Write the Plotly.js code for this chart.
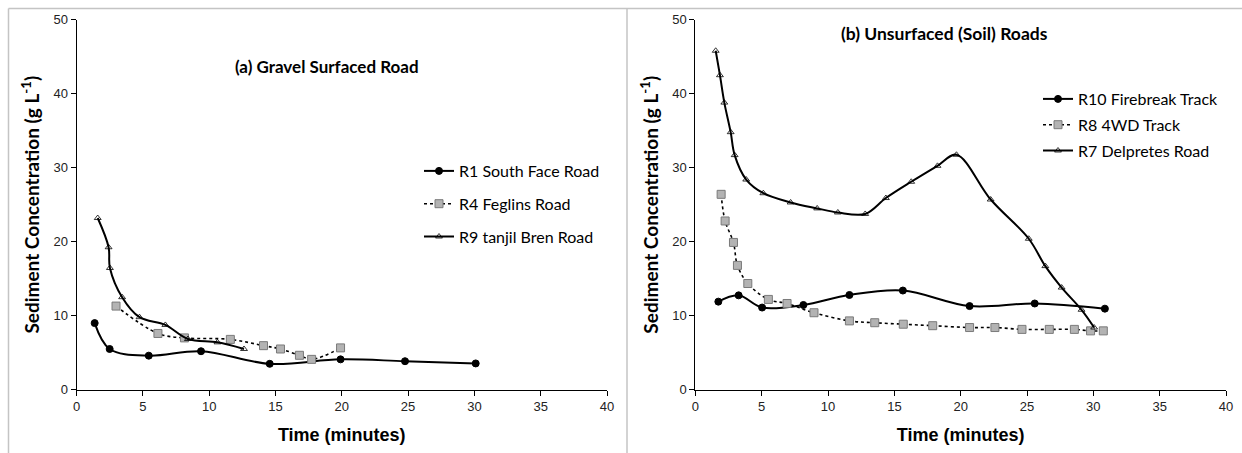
<!DOCTYPE html>
<html>
<head>
<meta charset="utf-8">
<script src="https://cdn.plot.ly/plotly-3.0.1.min.js"></script>
<style>html,body{margin:0;padding:0;background:#fff;}#chart{width:1242px;height:453px;}</style>
</head>
<body>
<div id="chart"></div>
<script>
// ---- Panel (a) Gravel Surfaced Road ----
const r1Time = [1.37, 2.50, 5.45, 9.39, 14.57, 19.91, 24.77, 30.1];
const r1Conc = [9.0, 5.5, 4.6, 5.2, 3.5, 4.1, 3.85, 3.55];
const r4Time = [2.98, 6.14, 8.14, 11.6, 14.1, 15.38, 16.81, 17.73, 19.91];
const r4Conc = [11.3, 7.6, 7.0, 6.8, 5.95, 5.5, 4.65, 4.1, 5.65];
const r9Time = [1.6, 2.42, 2.52, 3.44, 4.75, 6.7, 8.4, 10.63, 12.63];
const r9Conc = [23.2, 19.25, 16.45, 12.5, 9.8, 8.75, 6.85, 6.4, 5.5];

// ---- Panel (b) Unsurfaced (Soil) Roads ----
const r10Time = [1.73, 3.26, 5.03, 8.14, 11.61, 15.64, 20.67, 25.58, 30.87];
const r10Conc = [11.9, 12.75, 11.1, 11.45, 12.8, 13.4, 11.3, 11.65, 10.95];
const r8Time = [1.94, 2.24, 2.87, 3.17, 3.95, 5.50, 6.91, 8.94, 11.61, 13.52, 15.67, 17.89, 20.67, 22.58, 24.62, 26.68, 28.57, 29.79, 30.75];
const r8Conc = [26.4, 22.8, 19.9, 16.8, 14.35, 12.2, 11.65, 10.4, 9.3, 9.05, 8.85, 8.65, 8.4, 8.4, 8.15, 8.15, 8.15, 7.95, 7.95];
const r7Time = [1.53, 1.85, 2.18, 2.66, 2.96, 3.83, 5.12, 7.18, 9.18, 10.74, 12.8, 14.36, 16.27, 18.25, 19.68, 22.26, 25.13, 26.38, 27.61, 29.11, 30.06];
const r7Conc = [45.8, 42.5, 38.8, 34.8, 31.7, 28.4, 26.55, 25.3, 24.5, 23.95, 23.75, 25.9, 28.1, 30.25, 31.75, 25.7, 20.4, 16.7, 13.8, 10.8, 8.4];

const names = {
  r1: 'R1 South Face Road', r4: 'R4 Feglins Road', r9: 'R9 tanjil Bren Road',
  r10: 'R10 Firebreak Track', r8: 'R8 4WD Track', r7: 'R7 Delpretes Road'
};
const xTicks = [0, 5, 10, 15, 20, 25, 30, 35, 40];
const yTicks = [0, 10, 20, 30, 40, 50];
const panelTitles = ['(a) Gravel Surfaced Road', '(b) Unsurfaced (Soil) Roads'];
const xTitle = 'Time (minutes)';
const yTitle = 'Sediment Concentration (g L<sup>-1</sup>)';

const W = 1242, H = 453;
const px = v => v / W, py = v => 1 - v / H;
const calib = 'Lato, "Noto Sans", sans-serif';
const arial = '"Liberation Sans", Arial, sans-serif';

const circleStyle = {line: {color: '#000', width: 2, shape: 'spline', smoothing: 1},
  marker: {symbol: 'circle', size: 7, color: '#000', line: {color: '#000', width: 1}}};
const squareStyle = {line: {color: '#000', width: 1.6, dash: 'dot', shape: 'spline', smoothing: 1},
  marker: {symbol: 'square', size: 8, color: '#b3b3b3', line: {color: '#7a7a7a', width: 1}}};
const triStyle = {line: {color: '#000', width: 2, shape: 'spline', smoothing: 1},
  marker: {symbol: 'triangle-up-open', size: 6, color: '#000', line: {color: '#000', width: 0.8}}};

function tr(x, y, name, style, xa, ya, leg) {
  return Object.assign({x: x, y: y, name: name, type: 'scatter', mode: 'lines+markers',
    xaxis: xa, yaxis: ya, legend: leg, legendgroup: name}, JSON.parse(JSON.stringify(style)));
}

const data = [
  tr(r1Time, r1Conc, names.r1, circleStyle, 'x', 'y', 'legend'),
  tr(r4Time, r4Conc, names.r4, squareStyle, 'x', 'y', 'legend'),
  tr(r9Time, r9Conc, names.r9, triStyle, 'x', 'y', 'legend'),
  tr(r10Time, r10Conc, names.r10, circleStyle, 'x2', 'y2', 'legend2'),
  tr(r8Time, r8Conc, names.r8, squareStyle, 'x2', 'y2', 'legend2'),
  tr(r7Time, r7Conc, names.r7, triStyle, 'x2', 'y2', 'legend2')
];

function xAxis(domain, anchor) {
  return {domain: domain, anchor: anchor, range: [0, 40], tickvals: xTicks, ticktext: xTicks.map(String),
    showgrid: false, zeroline: false, showline: true, linecolor: '#000', linewidth: 1,
    ticks: 'outside', ticklen: 5, tickcolor: '#000', tickfont: {family: arial, size: 13, color: '#222'},
    title: {text: xTitle, font: {family: arial, size: 18, color: '#000', weight: 'bold'}, standoff: 15},
    fixedrange: true};
}
function yAxis(anchor) {
  return {domain: [py(389.7), py(19.7)], anchor: anchor, range: [0, 50], tickvals: yTicks, ticktext: yTicks.map(String),
    showgrid: false, zeroline: false, showline: true, linecolor: '#000', linewidth: 1,
    ticks: 'outside', ticklen: 5, tickcolor: '#000', tickfont: {family: arial, size: 13, color: '#222'},
    title: {text: yTitle, font: {family: calib, size: 19, color: '#000', weight: 'bold'}, standoff: 8},
    fixedrange: true};
}

const legendBase = {bgcolor: 'rgba(0,0,0,0)', borderwidth: 0, font: {family: calib, size: 16, color: '#000'},
  xanchor: 'left', yanchor: 'top', itemclick: false, itemdoubleclick: false, traceorder: 'grouped'};

const layout = {
  width: W, height: H,
  margin: {l: 0, r: 0, t: 0, b: 0},
  paper_bgcolor: '#fff', plot_bgcolor: '#fff',
  showlegend: true,
  xaxis: xAxis([px(76.5), px(607)], 'y'),
  yaxis: yAxis('x'),
  xaxis2: xAxis([px(695.4), px(1226)], 'y2'),
  yaxis2: yAxis('x2'),
  legend: Object.assign({}, legendBase, {x: px(419), y: py(154), tracegroupgap: 9}),
  legend2: Object.assign({}, legendBase, {x: px(1038), y: py(82), tracegroupgap: 2}),
  annotations: [
    {text: panelTitles[0], xref: 'paper', yref: 'paper', x: px(327), y: py(67), showarrow: false,
     xanchor: 'center', yanchor: 'middle', font: {family: calib, size: 17, color: '#000', weight: 'bold'}},
    {text: panelTitles[1], xref: 'paper', yref: 'paper', x: px(944), y: py(34), showarrow: false,
     xanchor: 'center', yanchor: 'middle', font: {family: calib, size: 17.5, color: '#000', weight: 'bold'}}
  ],
  shapes: [
    {type: 'line', xref: 'paper', yref: 'paper', x0: px(8.5), x1: 1, y0: py(8.5), y1: py(8.5), line: {color: '#c4c4c4', width: 1.5}},
    {type: 'line', xref: 'paper', yref: 'paper', x0: px(8.5), x1: px(8.5), y0: py(8.5), y1: 0, line: {color: '#c4c4c4', width: 1.5}},
    {type: 'line', xref: 'paper', yref: 'paper', x0: px(627), x1: px(627), y0: py(8.5), y1: 0, line: {color: '#c4c4c4', width: 1.5}}
  ]
};

Plotly.newPlot('chart', data, layout, {displayModeBar: false, staticPlot: true});
</script>
</body>
</html>
